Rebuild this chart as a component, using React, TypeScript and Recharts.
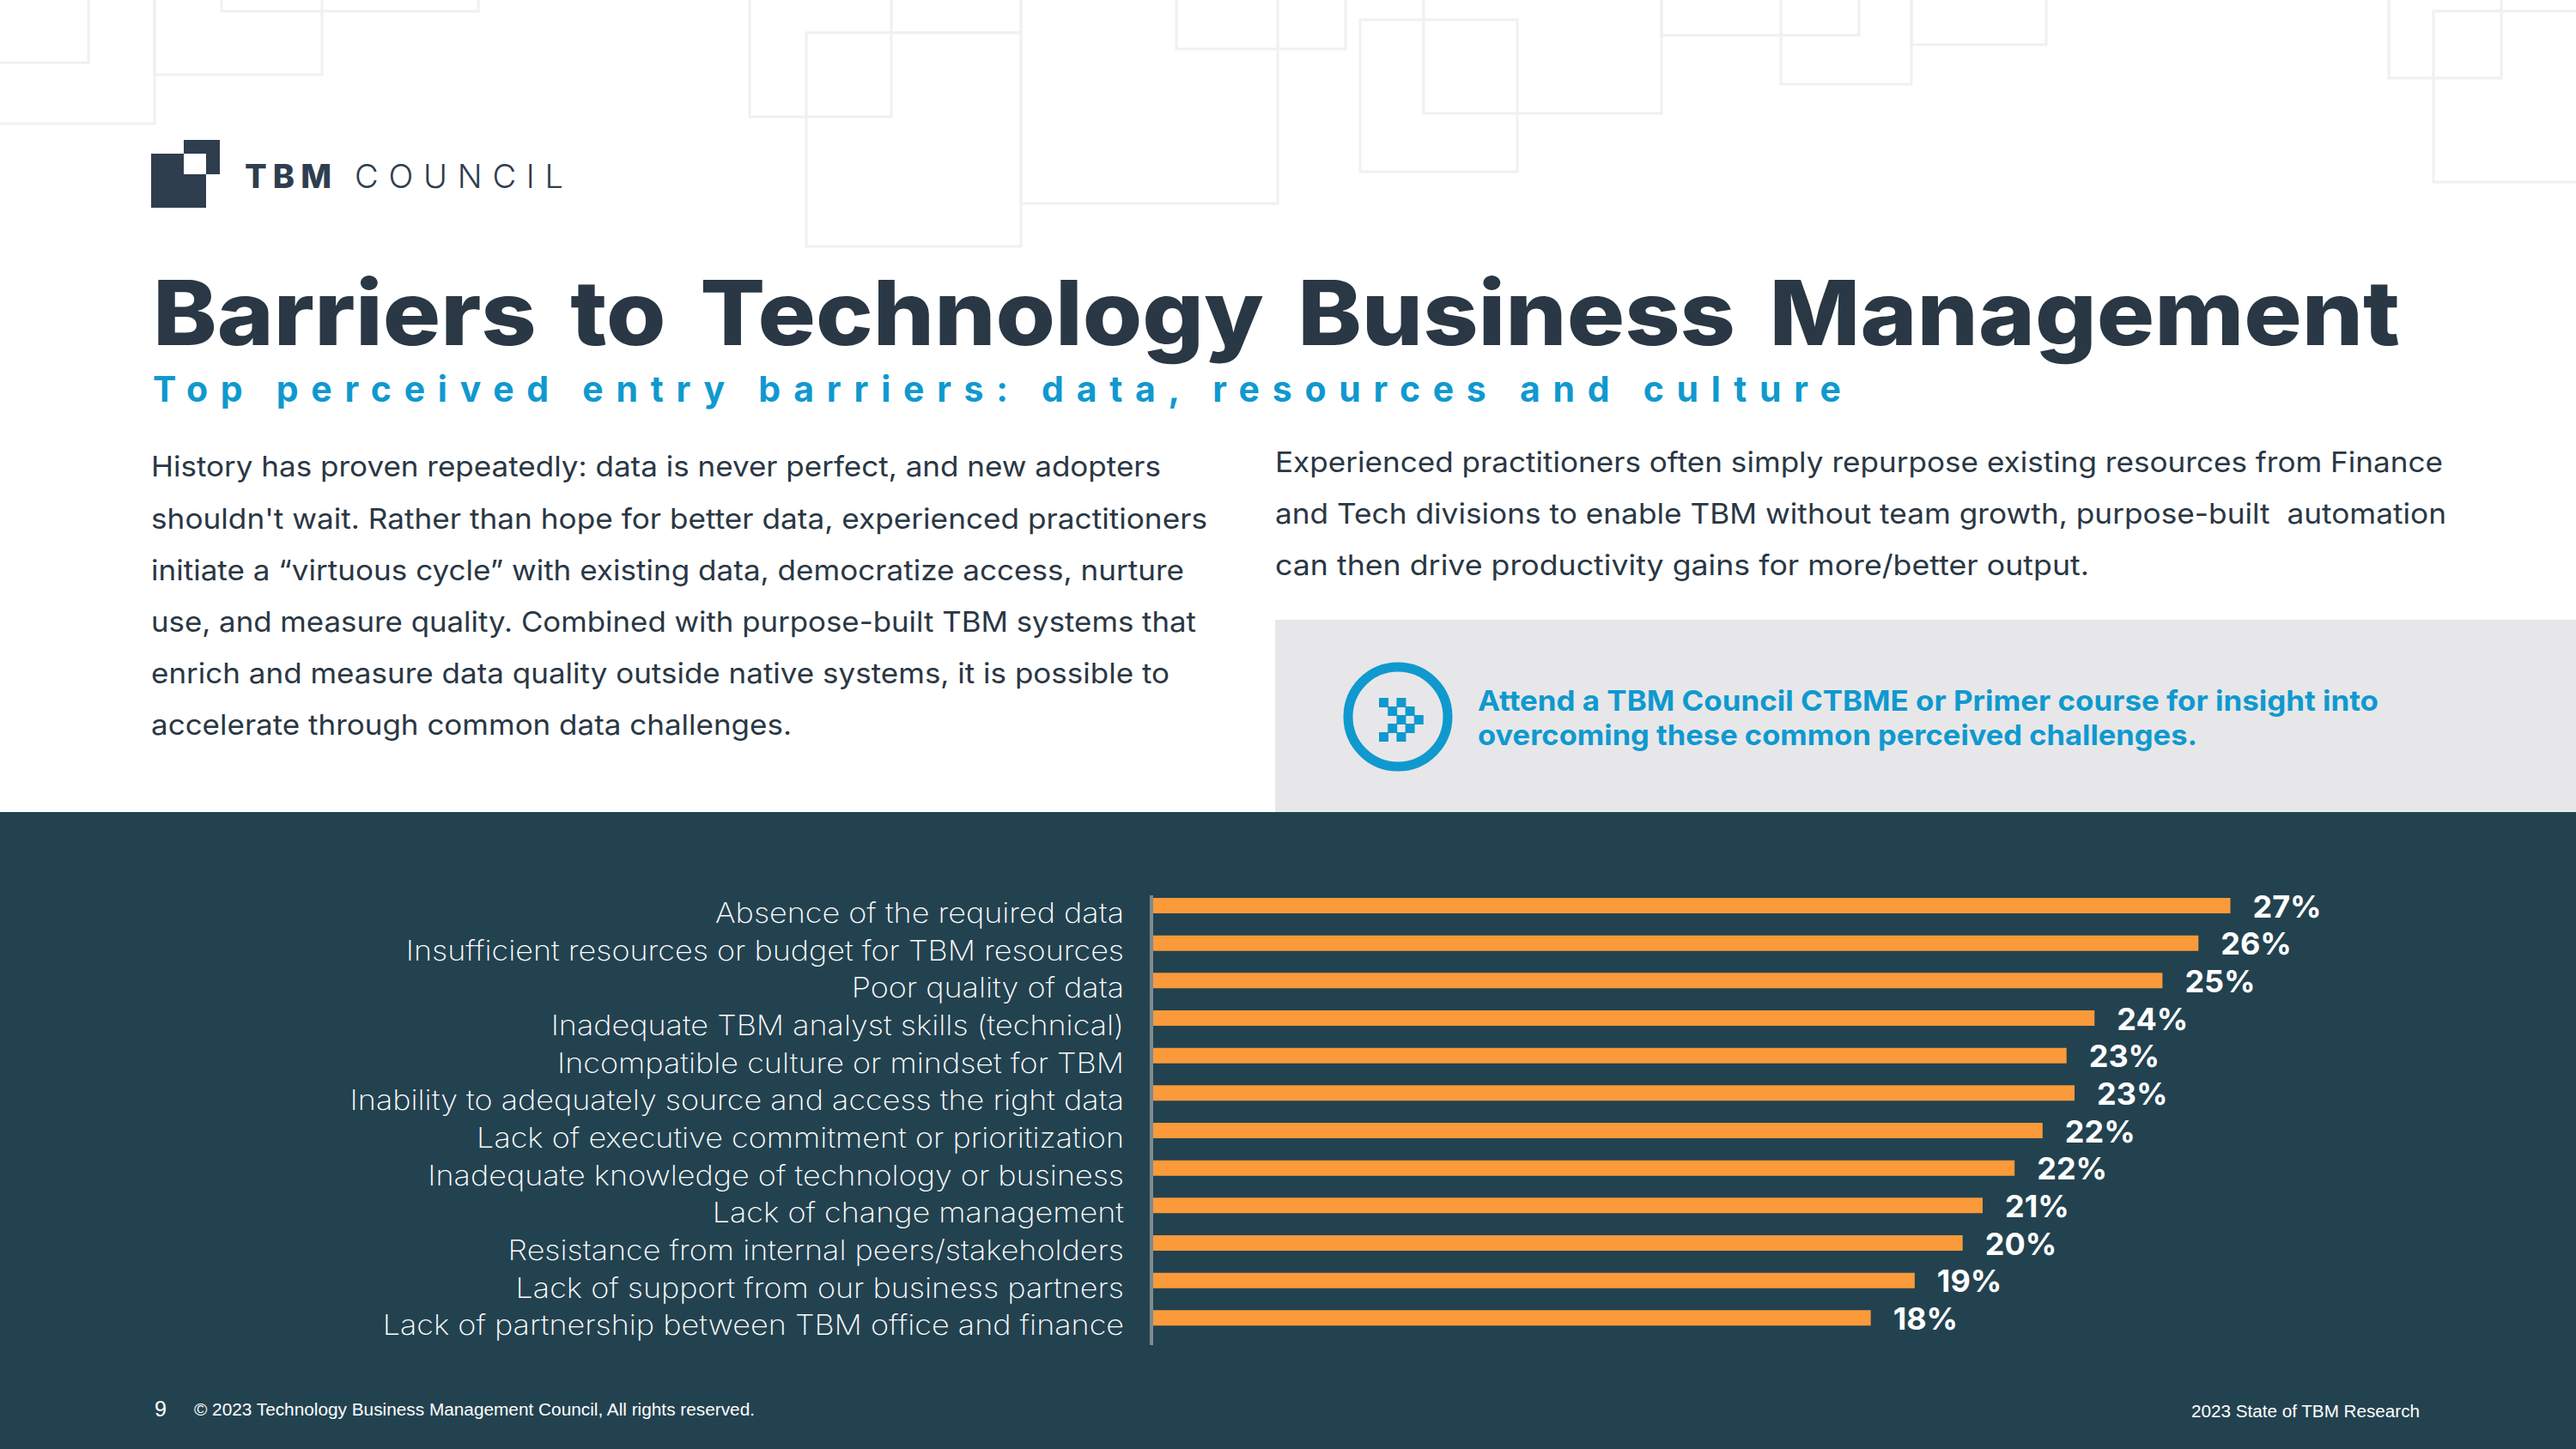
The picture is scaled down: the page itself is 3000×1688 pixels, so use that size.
import { BarChart, Bar, XAxis, YAxis, LabelList } from 'recharts';

const barriers = [
  'Absence of the required data',
  'Insufficient resources or budget for TBM resources',
  'Poor quality of data',
  'Inadequate TBM analyst skills (technical)',
  'Incompatible culture or mindset for TBM',
  'Inability to adequately source and access the right data',
  'Lack of executive commitment or prioritization',
  'Inadequate knowledge of technology or business',
  'Lack of change management',
  'Resistance from internal peers/stakeholders',
  'Lack of support from our business partners',
  'Lack of partnership between TBM office and finance',
];
const shares = [27.0, 26.2, 25.3, 23.6, 22.9, 23.1, 22.3, 21.6, 20.8, 20.3, 19.1, 18.0];

const chartData = barriers.map((name, i) => ({ name, share: shares[i] }));

const NAVY = '#234250';
const INK = '#2a3744';
const BLUE = '#0f99cf';
const FONT = 'Inter, sans-serif';

// background outline boxes: left, top, right, bottom
const BOXES = [
  [-10, -10, 103, 73], [-10, -10, 180, 144], [180, -10, 375, 87], [258, -10, 557, 13],
  [873, -10, 1038, 136], [939, 38, 1189, 287], [1038, -10, 1189, 38], [1189, -10, 1488, 237],
  [1370, -10, 1567, 57], [1584, 23, 1767, 200], [1658, -10, 1935, 132], [1935, -10, 2165, 41],
  [2074, -10, 2226, 98], [2226, -10, 2383, 52], [2782, -10, 2913, 91], [2834, 13, 3010, 212],
];

// checker arrow in the callout icon: column, row
const ARROW = [[0, 0], [2, 0], [1, 1], [3, 1], [2, 2], [4, 2], [1, 3], [3, 3], [0, 4], [2, 4]];

type Line = { t: string; x: number; y: number; end: number };

const BODY_LEFT: Line[] = [
  { t: 'History has proven repeatedly: data is never perfect, and new adopters', x: 176, y: 555, end: 1352 },
  { t: "shouldn't wait. Rather than hope for better data, experienced practitioners", x: 176, y: 616, end: 1406 },
  { t: 'initiate a \u201cvirtuous cycle\u201d with existing data, democratize access, nurture', x: 176, y: 676, end: 1379 },
  { t: 'use, and measure quality. Combined with purpose-built TBM systems that', x: 176, y: 736, end: 1393 },
  { t: 'enrich and measure data quality outside native systems, it is possible to', x: 176, y: 796, end: 1362 },
  { t: 'accelerate through common data challenges.', x: 176, y: 856, end: 922 },
];
const BODY_RIGHT: Line[] = [
  { t: 'Experienced practitioners often simply repurpose existing resources from Finance', x: 1485, y: 550, end: 2845 },
  { t: 'and Tech divisions to enable TBM without team growth, purpose-built  automation', x: 1485, y: 610, end: 2849 },
  { t: 'can then drive productivity gains for more/better output.', x: 1485, y: 670, end: 2433 },
];
const CALLOUT: Line[] = [
  { t: 'Attend a TBM Council CTBME or Primer course for insight into', x: 1721, y: 828, end: 2770 },
  { t: 'overcoming these common perceived challenges.', x: 1721, y: 868, end: 2559 },
];

function Fit({ line, size, weight, fill, family = FONT, stretch = true, wordGap = 0 }: { line: Line; size: number; weight: number; fill: string; family?: string; stretch?: boolean; wordGap?: number }) {
  return (
    <text
      x={line.x}
      y={line.y}
      fontSize={size}
      fontWeight={weight}
      fontFamily={family}
      fill={fill}
      wordSpacing={wordGap}
      textLength={line.end - line.x}
      lengthAdjust={stretch ? 'spacingAndGlyphs' : 'spacing'}
      xmlSpace="preserve"
    >
      {line.t}
    </text>
  );
}

function BarrierTick({ x, y, payload }: any) {
  return (
    <text
      transform={`translate(${x},${y + 20}) scale(1.09,1)`}
      textAnchor="end"
      fontSize={33}
      fontWeight={250}
      fontFamily={FONT}
      fill="#ffffff"
    >
      {payload.value}
    </text>
  );
}

function Slide() {
  return (
    <svg width={3000} height={1688} style={{ position: 'absolute', left: 0, top: 0 }}>
      <rect width={3000} height={1688} fill="#ffffff" />
      {BOXES.map(([l, t, r, b], i) => (
        <rect key={i} x={l} y={t} width={r - l} height={b - t} fill="none" stroke="#eff0f3" strokeWidth={3} />
      ))}

      <g fill="#2f3e4e">
        <rect x={176} y={179} width={64} height={63} />
        <rect x={214} y={163} width={42} height={16} />
        <rect x={240} y={179} width={16} height={24} />
      </g>
      <rect x={214} y={179} width={26} height={24} fill="#ffffff" />
      <Fit line={{ t: 'TBM', x: 285, y: 219, end: 386 }} size={38} weight={800} fill="#2f3e4e" stretch={false} />
      <Fit line={{ t: 'COUNCIL', x: 413, y: 219, end: 656 }} size={38} weight={300} fill="#2f3e4e" stretch={false} />

      <Fit line={{ t: 'Barriers to Technology Business Management', x: 178, y: 402, end: 2795 }} size={104} weight={800} fill={INK} wordGap={14} />
      <Fit line={{ t: 'Top perceived entry barriers: data, resources and culture', x: 178, y: 468, end: 2144 }} size={41} weight={700} fill={BLUE} stretch={false} />

      {BODY_LEFT.map((l) => <Fit key={l.t} line={l} size={33} weight={400} fill={INK} />)}
      {BODY_RIGHT.map((l) => <Fit key={l.t} line={l} size={33} weight={400} fill={INK} />)}

      <rect x={1485} y={722} width={1515} height={224} fill="#e7e7e9" />
      <circle cx={1628} cy={835} r={58} fill="none" stroke={BLUE} strokeWidth={11} />
      {ARROW.map(([c, r]) => (
        <rect key={`${c}-${r}`} x={1606 + c * 10.2} y={813 + r * 10} width={11} height={11} fill={BLUE} />
      ))}
      {CALLOUT.map((l) => <Fit key={l.t} line={l} size={33} weight={700} fill={BLUE} />)}

      <rect x={0} y={946} width={3000} height={742} fill={NAVY} />
      <Fit line={{ t: '9', x: 180, y: 1650, end: 194 }} size={25} weight={400} fill="#ffffff" family="Liberation Sans" />
      <Fit line={{ t: '\u00a9 2023 Technology Business Management Council, All rights reserved.', x: 226, y: 1649, end: 879 }} size={20} weight={400} fill="#ffffff" family="Liberation Sans" />
      <Fit line={{ t: '2023 State of TBM Research', x: 2552, y: 1651, end: 2818 }} size={20} weight={400} fill="#ffffff" family="Liberation Sans" />
    </svg>
  );
}

export default function App() {
  return (
    <div style={{ position: 'absolute', left: 0, top: 0, width: 3000, height: 1688, overflow: 'hidden' }}>
      <Slide />
      <div style={{ position: 'absolute', left: 0, top: 946 }}>
        <BarChart
          width={3000}
          height={742}
          data={chartData}
          layout="vertical"
          barSize={18}
          margin={{ top: 97, right: 100, bottom: 121, left: 0 }}
        >
          <XAxis type="number" domain={[0, 33.5]} hide />
          <YAxis
            type="category"
            dataKey="name"
            width={1341}
            interval={0}
            tickLine={false}
            tickMargin={26}
            tick={<BarrierTick />}
            padding={{ top: -10, bottom: 10 }}
            axisLine={{ stroke: '#7f8a90', strokeWidth: 4 }}
          />
          <Bar dataKey="share" fill="#fa9a3a" isAnimationActive={false}>
            <LabelList
              dataKey="share"
              position="right"
              offset={26}
              formatter={(v: number) => `${Math.round(v)}%`}
              style={{ fill: '#ffffff', fontSize: 36, fontWeight: 700, fontFamily: FONT, transform: 'translateY(1px)' }}
            />
          </Bar>
        </BarChart>
      </div>
    </div>
  );
}
